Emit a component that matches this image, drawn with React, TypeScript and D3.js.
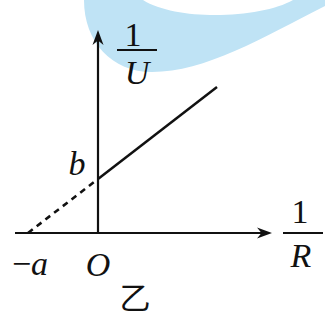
import React from "react";
import * as d3 from "d3";

// Graph of 1/U against 1/R: a straight line with intercept b on the 1/U axis,
// extended (dashed) back to −a on the 1/R axis.
const dashedX = [-7.0, 0];
const dashedY = [0, 5.4];
const solidX = [0, 11.9];
const solidY = [5.4, 14.6];

const xAxisExtent = [-8.3, 17.4];
const yAxisExtent = [0, 20.3];

const interceptLabelX = "−";
const interceptLabelA = "a";
const interceptLabelB = "b";
const originLabel = "O";
const figureLabel = "乙";

const W = 325;
const H = 321;

const serif = '"Liberation Serif", serif';

export default function App() {
  const x = d3.scaleLinear().domain(xAxisExtent).range([15, 272]);
  const y = d3.scaleLinear().domain(yAxisExtent).range([233, 30]);

  const line = d3
    .line<[number, number]>()
    .x((d) => x(d[0]))
    .y((d) => y(d[1]));

  const dashedPts = dashedX.map((v, i) => [v, dashedY[i]] as [number, number]);
  const solidPts = solidX.map((v, i) => [v, solidY[i]] as [number, number]);

  const x0 = x(0);
  const y0 = y(0);
  const xEnd = x(xAxisExtent[1]);
  const yEnd = y(yAxisExtent[1]);

  // barbed arrowhead, tip at the origin pointing along +x
  const arrow = "M0,0 L-15,-5.5 L-10.5,0 L-15,5.5 Z";

  const textStyle = { fontFamily: serif, fontSize: 34 };

  return (
    <svg
      width={W}
      height={H}
      viewBox={`0 0 ${W} ${H}`}
      style={{ position: "fixed", left: 0, top: 0, display: "block", background: "#fff" }}
    >
      {/* watermark band */}
      <path
        d="M84,0 C84,42 112,72 152,72 C205,72 262,38 325,6 L325,0 L293,0 C262,18 178,22 143,0 Z"
        fill="#bfe3f5"
      />

      {/* axes */}
      <line x1={x(xAxisExtent[0])} y1={y0} x2={xEnd - 6} y2={y0} stroke="#111" strokeWidth={2.2} />
      <path d={arrow} transform={`translate(${xEnd},${y0})`} fill="#111" />
      <line x1={x0} y1={y0 + 1} x2={x0} y2={yEnd + 6} stroke="#111" strokeWidth={2.2} />
      <path d={arrow} transform={`translate(${x0},${yEnd}) rotate(-90)`} fill="#111" />

      {/* data line */}
      <path
        d={line(dashedPts) || ""}
        fill="none"
        stroke="#111"
        strokeWidth={2.6}
        strokeDasharray="6,5"
      />
      <path d={line(solidPts) || ""} fill="none" stroke="#111" strokeWidth={2.5} />

      {/* axis titles */}
      <g fill="#111" textAnchor="middle" style={textStyle}>
        <text x={133} y={46}>1</text>
        <text x={137} y={84} fontStyle="italic">U</text>

        <text x={300} y={223}>1</text>
        <text x={301} y={267} fontStyle="italic">R</text>

        <text x={77} y={175} fontStyle="italic">{interceptLabelB}</text>
        <text x={30} y={275}>
          <tspan>{interceptLabelX}</tspan>
          <tspan fontStyle="italic">{interceptLabelA}</tspan>
        </text>
        <text x={98} y={276} fontStyle="italic">{originLabel}</text>
      </g>
      <line x1={117} y1={50} x2={157} y2={50} stroke="#111" strokeWidth={2.2} />
      <line x1={283} y1={233} x2={323} y2={233} stroke="#111" strokeWidth={2.2} />

      <text
        x={135}
        y={309}
        fill="#111"
        textAnchor="middle"
        style={{ fontFamily: '"Noto Sans CJK SC", sans-serif', fontSize: 31 }}
      >
        {figureLabel}
      </text>
    </svg>
  );
}
